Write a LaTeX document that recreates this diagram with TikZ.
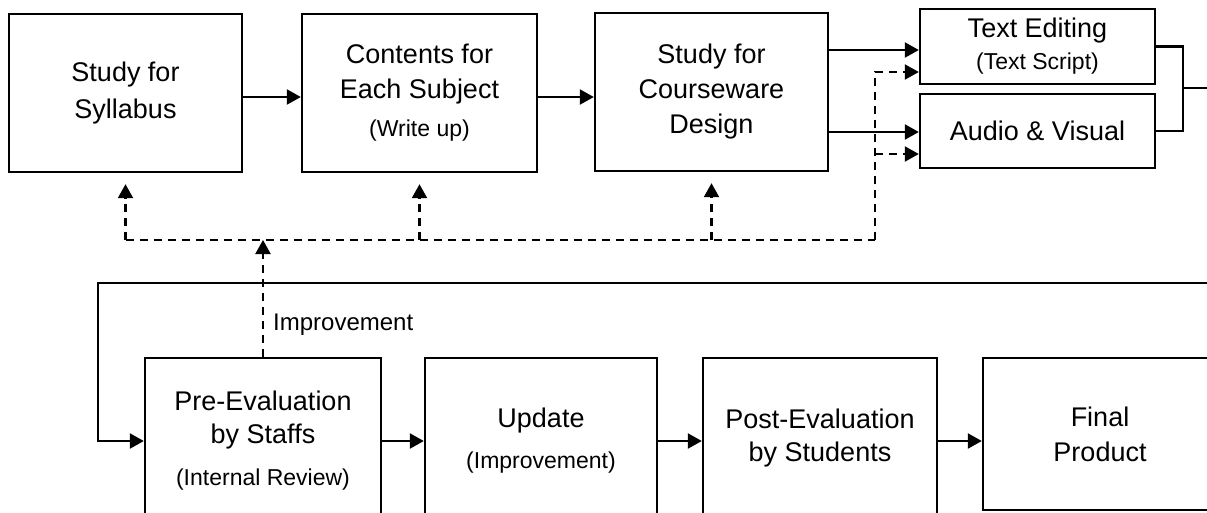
\documentclass[tikz,border=0pt]{standalone}
\usepackage{fontspec}
\setmainfont{Liberation Sans}
\usetikzlibrary{arrows.meta}
\newcommand{\smalltxt}[1]{{\fontsize{23}{28}\selectfont #1}}
\tikzset{
  stepbox/.style={draw, line width=2.4pt, inner sep=0pt, align=center,
    font=\fontsize{27}{35}\selectfont},
  arr/.style={-{Triangle[length=14pt,width=15pt]}},
  conn/.style={line width=2.4pt},
  dsh/.style={line width=2.2pt, dash pattern=on 8pt off 6pt},
  lbl/.style={font=\fontsize{24}{28}\selectfont, inner sep=0pt}
}
\begin{document}
\begin{tikzpicture}[x=1pt,y=-1pt]
\useasboundingbox (0,0) rectangle (1207,512);
\clip (0,0) rectangle (1207,512);
% top row
\node[stepbox, minimum width=233pt, minimum height=158pt] (syl) at (125.5,93) {Study for\\[2pt]Syllabus};
\node[stepbox, minimum width=235pt, minimum height=158pt] (con) at (419.5,93) {Contents for\\Each Subject\\[3pt]\smalltxt{(Write up)}};
\node[stepbox, minimum width=233pt, minimum height=158pt] (des) at (711.5,92) {Study for\\Courseware\\Design};
\node[stepbox, minimum width=235pt, minimum height=75pt] (te) at (1037.5,46.5) {\rule{0pt}{4pt}Text Editing\\[-3pt]\smalltxt{(Text Script)}};
\node[stepbox, minimum width=235pt, minimum height=74pt] (av) at (1037.5,131) {Audio \& Visual};
% bottom row
\node[stepbox, minimum width=236pt, minimum height=166pt] (pre) at (263,441) {Pre-Evaluation\\[-2pt]by Staffs\\[7pt]\smalltxt{(Internal Review)}};
\node[stepbox, minimum width=232pt, minimum height=166pt] (upd) at (541,441) {Update\\[6pt]\smalltxt{(Improvement)}};
\node[stepbox, minimum width=234pt, minimum height=160pt] (post) at (820,438) {Post-Evaluation\\[-2pt]by Students};
\node[stepbox, minimum width=234pt, minimum height=152pt] (fin) at (1100,434) {Final\\Product};
% helper coordinates
\coordinate (r1) at (0,97);
\coordinate (te1) at ([yshift=-3.5pt]te.west);
\coordinate (te2) at ([yshift=-25.5pt]te.west);
\coordinate (av1) at ([yshift=-1pt]av.west);
\coordinate (av2) at ([yshift=-23pt]av.west);
\coordinate (dv) at (875,240);
\coordinate (jn) at (1183,88);
\coordinate (out) at (1212,88);
\coordinate (rt) at (1212,283);
\coordinate (lp) at (98,283);
% top row connectors
\draw[conn,arr] (syl.east |- r1) -- (con.west |- r1);
\draw[conn,arr] (con.east |- r1) -- (des.west |- r1);
\draw[conn,arr] (des.east |- te1) -- (te1);
\draw[conn,arr] (des.east |- av1) -- (av1);
\draw[conn] (te.east) -| (jn) |- (av.east);
\draw[conn] (jn) -- (out);
% dashed feedback
\draw[dsh] (syl.south |- dv) -- (dv);
\draw[dsh,arr] (dv) -- (dv |- te2) -- (te2);
\draw[dsh,arr] (dv |- av2) -- (av2);
\draw[dsh,arr] (syl.south |- dv) -- ([yshift=-11pt]syl.south);
\draw[dsh,arr] (con.south |- dv) -- ([yshift=-11pt]con.south);
\draw[dsh,arr] (des.south |- dv) -- ([yshift=-11pt]des.south);
\draw[dsh,arr] (pre.north) -- (pre.north |- dv);
\node[lbl, anchor=base west] (imp) at (273,330) {Improvement};
% bottom loop and connectors
\draw[conn,arr] (rt) -- (lp) |- (pre.west);
\draw[conn,arr] (pre.east) -- (upd.west);
\draw[conn,arr] (upd.east) -- (post.west |- pre.east);
\draw[conn,arr] (post.east |- pre.east) -- (fin.west |- pre.east);
\end{tikzpicture}
\end{document}
